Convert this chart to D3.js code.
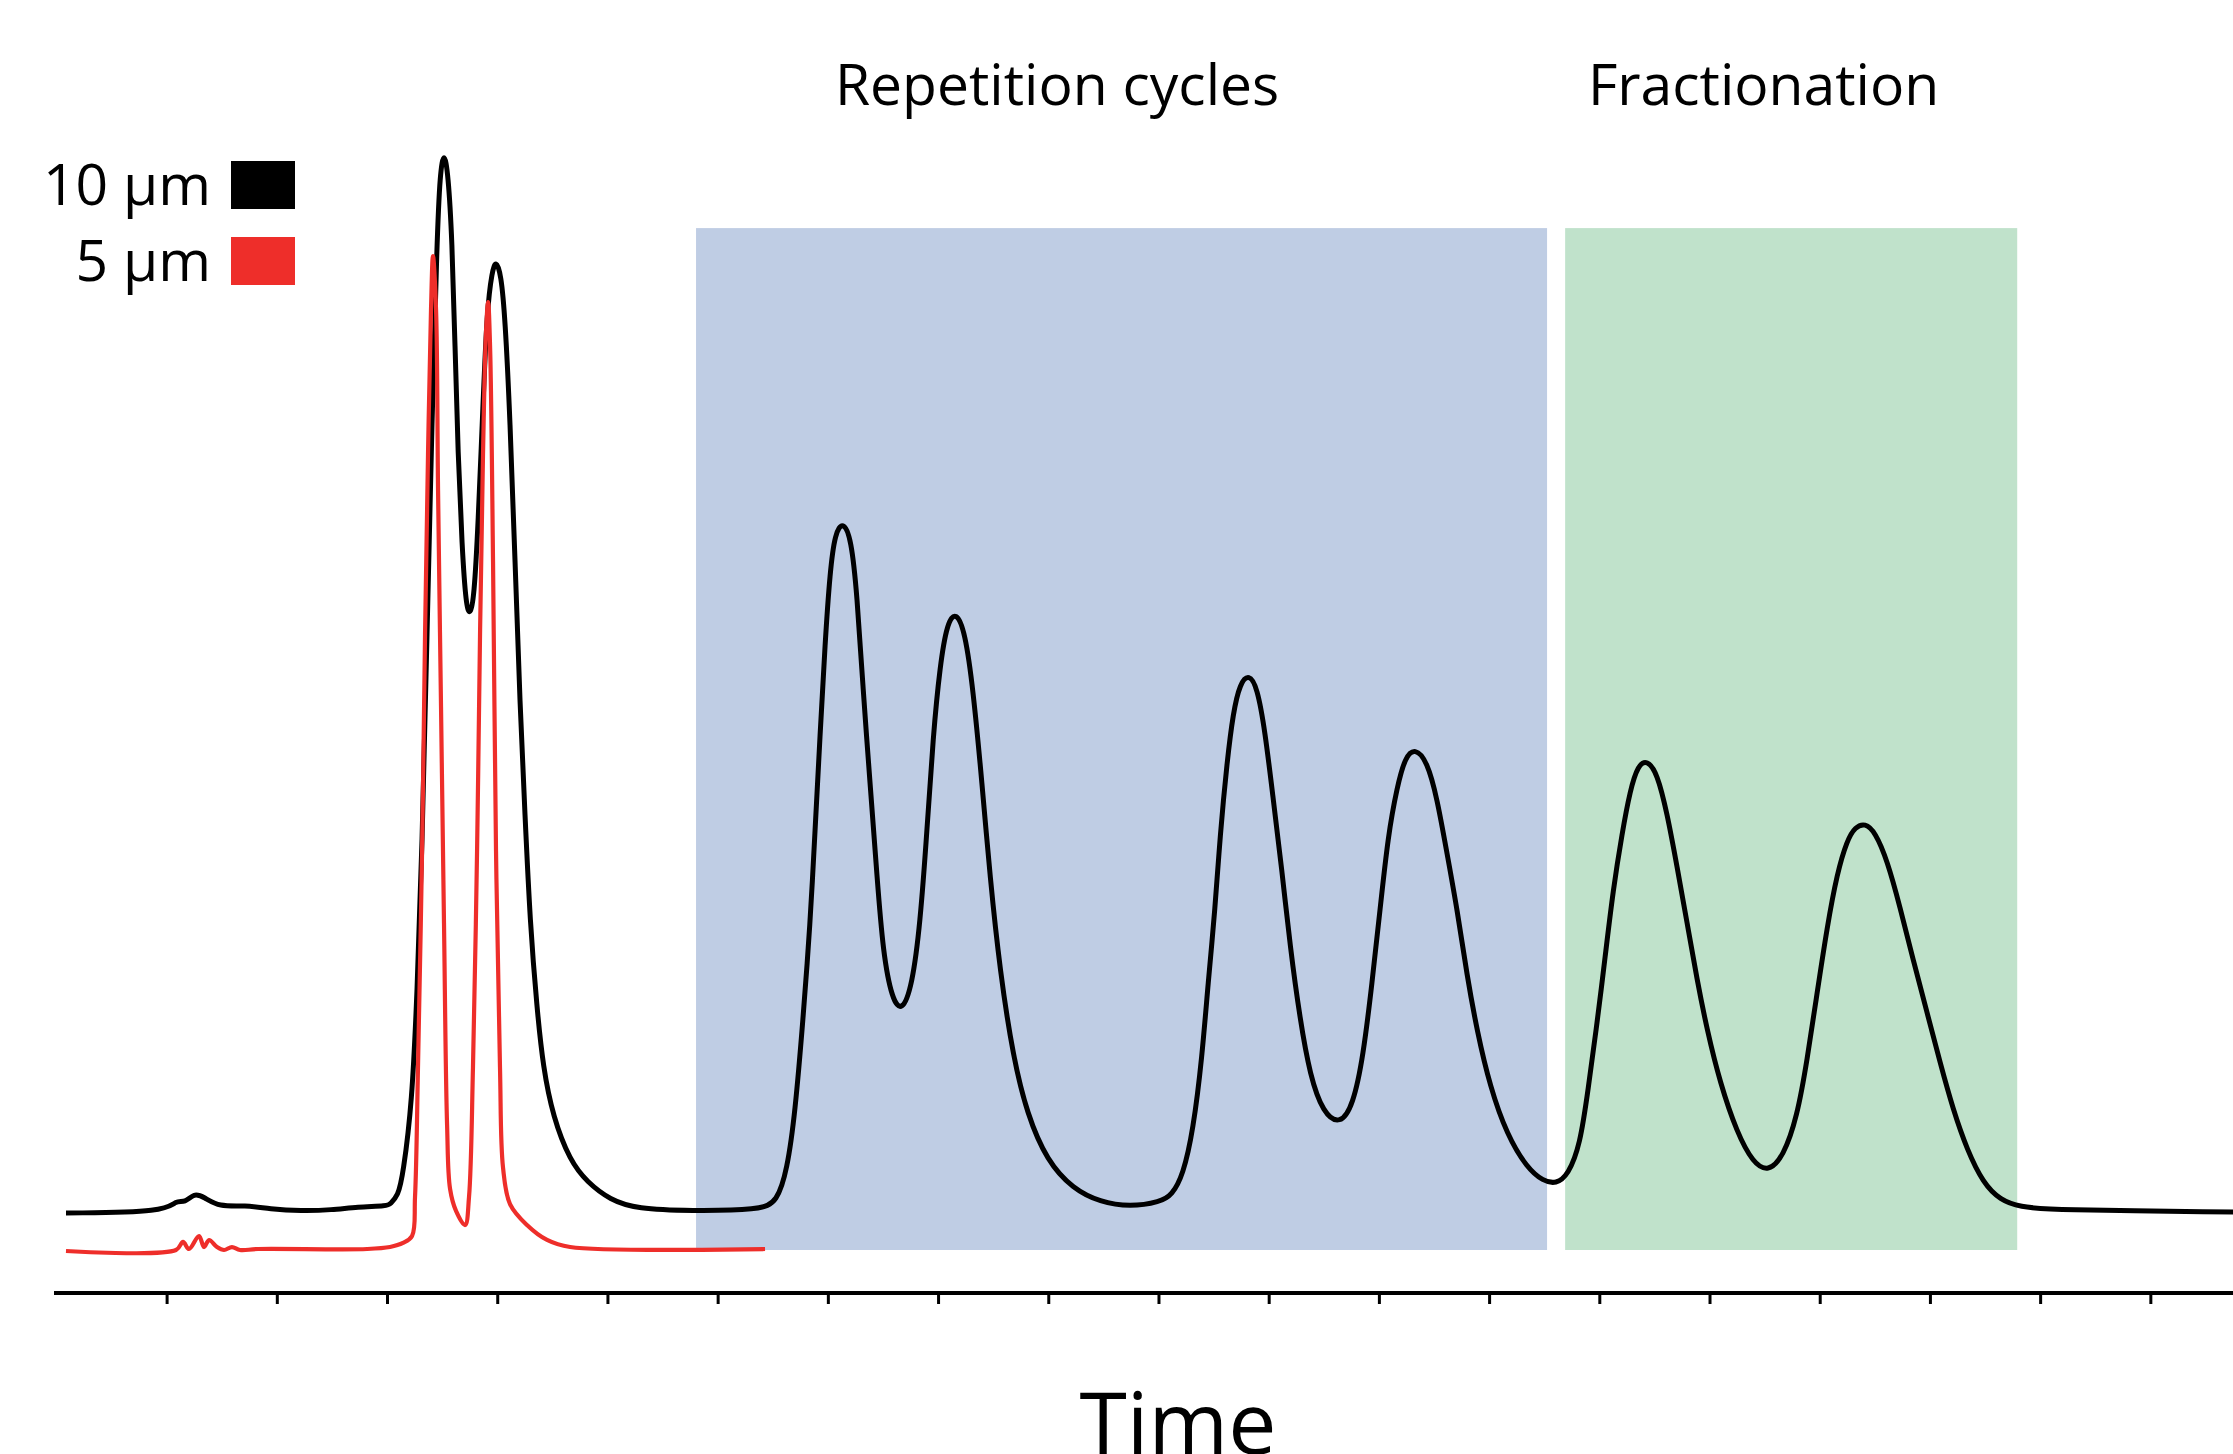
<!DOCTYPE html>
<html>
<head>
<meta charset="utf-8">
<script src="https://cdn.jsdelivr.net/npm/d3@7"></script>
<style>
  body { margin: 0; background: #fff; }
  svg { display: block; }
</style>
</head>
<body>
<div id="chart"></div>
<script>
// [time, signal] pairs (time in ticks, signal in arbitrary units)
var trace10um = [
  [0.087, 3.36], [0.995, 3.45], [1.085, 4.55], [1.167, 4.27], [1.249, 5.18], [1.339, 4.82],
  [1.476, 3.91], [1.711, 4.09], [1.938, 3.73], [2.220, 3.55], [2.501, 3.64], [2.728, 3.91],
  [3.009, 4.0], [3.027, 4.18], [3.100, 4.91], [3.145, 6.82], [3.227, 13.36], [3.272, 23.18],
  [3.318, 36.27], [3.363, 56.0], [3.408, 75.64], [3.454, 92.0], [3.481, 97.91], [3.517, 100.0],
  [3.554, 97.91], [3.590, 92.0], [3.617, 82.18], [3.644, 72.36], [3.681, 63.82], [3.717, 58.55],
  [3.753, 57.64], [3.790, 59.27], [3.826, 65.82], [3.871, 76.91], [3.907, 85.45], [3.953, 89.0],
  [3.989, 90.0], [4.034, 88.73], [4.071, 84.82], [4.116, 75.64], [4.162, 62.55], [4.207, 49.36],
  [4.252, 39.55], [4.298, 29.73], [4.361, 21.91], [4.416, 16.64], [4.506, 12.09], [4.661, 8.09],
  [4.815, 6.18], [5.024, 4.55], [5.269, 3.73], [5.750, 3.55], [6.385, 3.64], [6.539, 4.36],
  [6.630, 7.27], [6.702, 12.36], [6.775, 21.0], [6.839, 29.55], [6.884, 38.18], [6.929, 46.73],
  [6.975, 55.27], [7.020, 61.73], [7.065, 65.18], [7.138, 66.27], [7.211, 64.73], [7.265, 59.64],
  [7.319, 51.0], [7.383, 42.45], [7.447, 33.82], [7.501, 27.0], [7.583, 22.73], [7.673, 21.64],
  [7.764, 24.0], [7.837, 29.55], [7.900, 38.18], [7.955, 46.73], [8.018, 53.18], [8.082, 57.0],
  [8.163, 58.09], [8.245, 56.18], [8.318, 51.0], [8.399, 42.45], [8.472, 33.82], [8.563, 25.27],
  [8.681, 17.55], [8.808, 12.36], [8.989, 8.09], [9.225, 5.55], [9.470, 4.36], [9.742, 3.91],
  [10.015, 4.36], [10.123, 5.0], [10.223, 6.82], [10.314, 10.82], [10.396, 17.55], [10.450, 24.27],
  [10.514, 31.0], [10.559, 37.73], [10.623, 44.45], [10.677, 48.82], [10.740, 51.55], [10.822, 52.36],
  [10.895, 51.18], [10.967, 47.18], [11.040, 41.09], [11.122, 34.36], [11.194, 27.64], [11.285, 20.91],
  [11.376, 15.82], [11.494, 12.45], [11.648, 11.36], [11.766, 13.18], [11.857, 17.55], [11.938, 24.27],
  [12.011, 31.0], [12.084, 37.73], [12.165, 42.09], [12.238, 44.82], [12.328, 45.64], [12.437, 44.45],
  [12.528, 41.09], [12.619, 36.0], [12.710, 31.0], [12.800, 24.91], [12.891, 19.91], [13.009, 14.82],
  [13.163, 10.45], [13.345, 7.45], [13.490, 6.27], [13.608, 6.0], [13.717, 6.82], [13.826, 9.55],
  [13.898, 14.55], [13.980, 20.64], [14.053, 26.64], [14.125, 32.73], [14.207, 37.91], [14.280, 41.82],
  [14.352, 44.09], [14.434, 44.55], [14.525, 43.36], [14.615, 39.73], [14.706, 34.82], [14.797, 29.73],
  [14.887, 24.55], [14.978, 20.0], [15.096, 15.18], [15.250, 10.64], [15.396, 7.91], [15.532, 7.09],
  [15.668, 8.45], [15.795, 12.09], [15.886, 17.27], [15.976, 23.36], [16.067, 29.36], [16.158, 34.27],
  [16.249, 37.27], [16.321, 38.45], [16.412, 38.82], [16.503, 38.0], [16.612, 35.45], [16.729, 31.18],
  [16.848, 26.36], [16.975, 21.55], [17.093, 17.0], [17.211, 12.73], [17.338, 9.09], [17.483, 6.09],
  [17.637, 4.55], [17.819, 3.91], [18.091, 3.64], [19.751, 3.45]
];

var trace5um = [
  [0.087, -0.09], [1.085, 0.0], [1.149, 0.73], [1.203, 0.09], [1.294, 1.27], [1.339, 0.27],
  [1.385, 0.91], [1.457, 0.27], [1.521, 0.0], [1.593, 0.27], [1.666, 0.0], [1.829, 0.09],
  [2.819, 0.09], [3.027, 0.27], [3.145, 0.64], [3.227, 1.27], [3.254, 4.82], [3.281, 16.64],
  [3.318, 36.27], [3.345, 56.0], [3.372, 72.36], [3.399, 85.45], [3.417, 90.36], [3.445, 85.45],
  [3.463, 69.09], [3.490, 49.36], [3.517, 29.73], [3.545, 11.36], [3.572, 5.55], [3.626, 3.55],
  [3.708, 2.27], [3.744, 4.82], [3.780, 16.64], [3.817, 36.27], [3.844, 56.0], [3.871, 72.36],
  [3.898, 83.45], [3.917, 86.18], [3.935, 82.18], [3.962, 62.55], [3.989, 36.27], [4.025, 16.64],
  [4.053, 7.45], [4.116, 4.18], [4.270, 2.27], [4.452, 0.91], [4.661, 0.27], [6.430, 0.09]
];

var zoneNames = ["Repetition cycles", "Fractionation"];
var zoneStart = [5.804, 13.69];
var zoneEnd = [13.526, 17.792];
var zoneLabelAt = [9.08, 15.49];

var tickValues = d3.range(1, 20);
var legendLabels = ["10 µm", "5 µm"];
var axisTitle = "Time";

// styles / layout
var W = 2233, H = 1454;
var fontName = "'Open Sans', 'Noto Sans', sans-serif";
var traceColors = ["#000000", "#ee2e2a"];
var zoneColors = ["#bfcde4", "#c0e2cb"];
var shadeTop = 92.9;
var axisY = 1293;

var x = d3.scaleLinear().domain([0, 19.75]).range([56.4, 2233]);
var y = d3.scaleLinear().domain([0, 100]).range([1250, 150]);

var svg = d3.select("#chart").append("svg")
    .attr("width", W)
    .attr("height", H)
    .style("background", "#fff");

// shaded zones
svg.append("g").selectAll("rect")
    .data(zoneNames)
    .enter().append("rect")
    .attr("x", function (d, i) { return x(zoneStart[i]); })
    .attr("y", y(shadeTop))
    .attr("width", function (d, i) { return x(zoneEnd[i]) - x(zoneStart[i]); })
    .attr("height", y(0) - y(shadeTop))
    .attr("fill", function (d, i) { return zoneColors[i]; });

svg.append("g").selectAll("text")
    .data(zoneNames)
    .enter().append("text")
    .attr("x", function (d, i) { return x(zoneLabelAt[i]); })
    .attr("y", 105)
    .attr("text-anchor", "middle")
    .style("font-family", fontName)
    .style("font-size", "57px")
    .text(function (d) { return d; });

// traces: broad 10 µm trace smoothed with a b-spline, sharp 5 µm peaks through the points
var line10 = d3.line()
    .x(function (d) { return x(d[0]); })
    .y(function (d) { return y(d[1]); })
    .curve(d3.curveBasis);

var line5 = d3.line()
    .x(function (d) { return x(d[0]); })
    .y(function (d) { return y(d[1]); })
    .curve(d3.curveCatmullRom.alpha(0.5));

svg.append("path")
    .datum(trace10um)
    .attr("d", line10)
    .attr("fill", "none")
    .attr("stroke", traceColors[0])
    .attr("stroke-width", 5)
    .attr("stroke-linejoin", "round");

svg.append("path")
    .datum(trace5um)
    .attr("d", line5)
    .attr("fill", "none")
    .attr("stroke", traceColors[1])
    .attr("stroke-width", 4.2)
    .attr("stroke-linejoin", "round");

// x axis, ticks only
var axis = d3.axisBottom(x)
    .tickValues(tickValues)
    .tickSize(11)
    .tickFormat("");

var gx = svg.append("g")
    .attr("transform", "translate(0," + axisY + ")")
    .call(axis);
gx.select(".domain")
    .attr("d", "M54,0H2233")
    .attr("stroke", "#000")
    .attr("stroke-width", 4);
gx.selectAll(".tick line")
    .attr("stroke", "#000")
    .attr("stroke-width", 3);

svg.append("text")
    .attr("x", 1178)
    .attr("y", 1454)
    .attr("text-anchor", "middle")
    .style("font-family", fontName)
    .style("font-size", "86px")
    .text(axisTitle);

// legend
var legend = svg.append("g").selectAll("g")
    .data(legendLabels)
    .enter().append("g")
    .attr("transform", function (d, i) { return "translate(0," + (i * 76) + ")"; });

legend.append("rect")
    .attr("x", 231)
    .attr("y", 161)
    .attr("width", 64)
    .attr("height", 48)
    .attr("fill", function (d, i) { return traceColors[i]; });

legend.append("text")
    .attr("x", 211)
    .attr("y", 205)
    .attr("text-anchor", "end")
    .style("font-family", fontName)
    .style("font-size", "57px")
    .text(function (d) { return d; });
</script>
</body>
</html>
